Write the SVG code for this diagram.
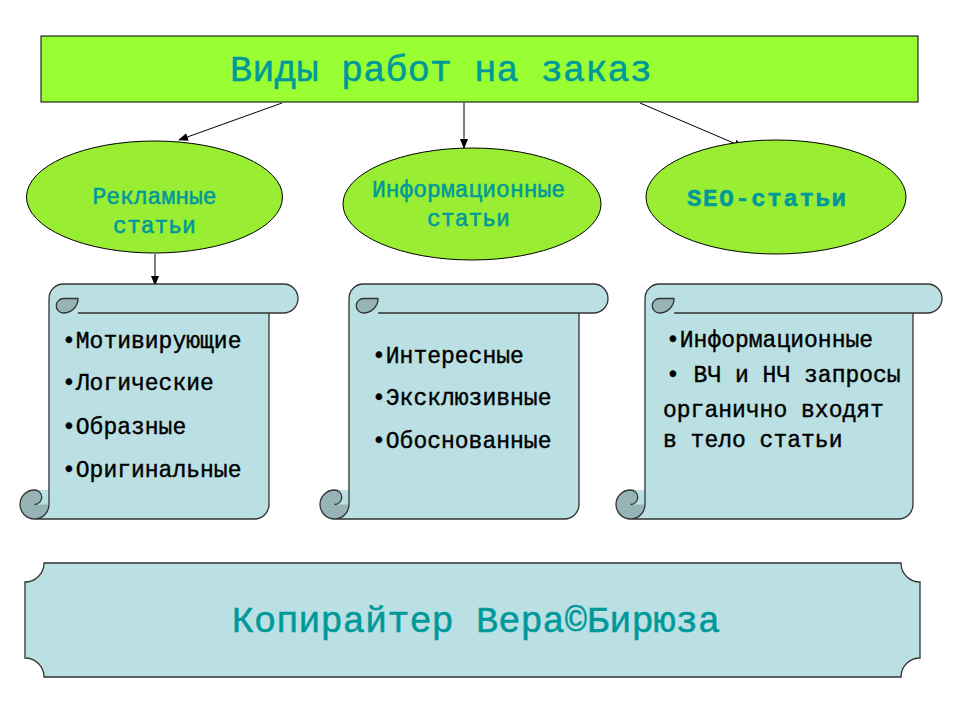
<svg xmlns="http://www.w3.org/2000/svg" width="960" height="720" viewBox="0 0 960 720">
<defs>
<style>
.t{font-family:"Liberation Mono","Courier New",monospace;}
.teal{fill:#009999;stroke:#009999;stroke-width:0.5;}
.blk{fill:#000;stroke:#000;stroke-width:0.4;}
.light{fill:#BBE0E3;}
.dark{fill:#96B3B6;}
.ln{fill:none;stroke:#333;stroke-width:1.3;}
.conn{stroke:#000;stroke-width:1;fill:none;marker-end:url(#ah);}
</style>
<marker id="ah" markerWidth="10" markerHeight="8" refX="9" refY="4" orient="auto" markerUnits="userSpaceOnUse">
<path d="M0,0 L10,4 L0,8 Z" fill="#000"/>
</marker>
</defs>
<rect width="960" height="720" fill="#fff"/>

<g id="title">
<rect x="41" y="36" width="877" height="66" fill="#99FF33" stroke="#000" stroke-width="1"/>
<text class="t teal" x="230" y="81" font-size="37">Виды работ на заказ</text>
</g>

<g id="connectors">
<line class="conn" x1="282" y1="103" x2="179" y2="140"/>
<line class="conn" x1="464" y1="103" x2="464" y2="148"/>
<line class="conn" x1="640" y1="103" x2="743" y2="147"/>
<line class="conn" x1="155" y1="254" x2="155" y2="285"/>
</g>

<g id="ellipse-reklama">
<ellipse cx="154.5" cy="197" rx="128" ry="56" fill="#99EE33" stroke="#000" stroke-width="1"/>
<text class="t teal" x="154.5" y="204" font-size="23" text-anchor="middle">Рекламные</text>
<text class="t teal" x="154.5" y="233" font-size="23" text-anchor="middle">статьи</text>
</g>

<g id="ellipse-info">
<ellipse cx="472" cy="204" rx="129" ry="56" fill="#99EE33" stroke="#000" stroke-width="1"/>
<text class="t teal" x="468.5" y="197" font-size="23" text-anchor="middle">Информационные</text>
<text class="t teal" x="468.5" y="226" font-size="23" text-anchor="middle">статьи</text>
</g>

<g id="ellipse-seo">
<ellipse cx="776" cy="197" rx="130" ry="57" fill="#99EE33" stroke="#000" stroke-width="1"/>
<text class="t teal" x="766.5" y="206" font-size="24" font-weight="bold" text-anchor="middle" textLength="159">SEO-статьи</text>
</g>

<g id="scroll-1" transform="translate(20,284)">
<path class="light" d="M29,14.5 A14.5,14.5 0 0 1 43.5,0 L263.5,0 A14.5,14.5 0 0 1 263.5,29 L249,29 L249,220.5 A14.5,14.5 0 0 1 234.5,235 L14.5,235 A14.5,14.5 0 0 0 29,220.5 Z"/>
<circle class="dark" cx="14.5" cy="220.5" r="14.5"/>
<path class="light" d="M14.5,220.5 A7.25,7.25 0 0 0 14.5,206 L29,206 L29,220.5 Z"/>
<path class="dark" d="M58,14.5 A14.5,14.5 0 0 1 43.5,29 A7.25,7.25 0 0 1 43.5,14.5 Z"/>
<path class="ln" d="M58,14.5 A14.5,14.5 0 0 1 43.5,29 A7.25,7.25 0 0 1 43.5,14.5 Z"/>
<path class="ln" d="M29,220.5 L29,14.5 A14.5,14.5 0 0 1 43.5,0 L263.5,0 A14.5,14.5 0 0 1 263.5,29 L58,29 M249,29 L249,220.5 A14.5,14.5 0 0 1 234.5,235 L14.5,235 M29,220.5 A14.5,14.5 0 1 1 14.5,206 A7.25,7.25 0 0 1 14.5,220.5"/>
<text class="t blk" font-size="23"><tspan x="42" y="64">•Мотивирующие</tspan><tspan x="42" y="106">•Логические</tspan><tspan x="42" y="150">•Образные</tspan><tspan x="42" y="193">•Оригинальные</tspan></text>
</g>

<g id="scroll-2" transform="translate(320,284)">
<path class="light" d="M29,14.5 A14.5,14.5 0 0 1 43.5,0 L273.5,0 A14.5,14.5 0 0 1 273.5,29 L259,29 L259,220.5 A14.5,14.5 0 0 1 244.5,235 L14.5,235 A14.5,14.5 0 0 0 29,220.5 Z"/>
<circle class="dark" cx="14.5" cy="220.5" r="14.5"/>
<path class="light" d="M14.5,220.5 A7.25,7.25 0 0 0 14.5,206 L29,206 L29,220.5 Z"/>
<path class="dark" d="M58,14.5 A14.5,14.5 0 0 1 43.5,29 A7.25,7.25 0 0 1 43.5,14.5 Z"/>
<path class="ln" d="M58,14.5 A14.5,14.5 0 0 1 43.5,29 A7.25,7.25 0 0 1 43.5,14.5 Z"/>
<path class="ln" d="M29,220.5 L29,14.5 A14.5,14.5 0 0 1 43.5,0 L273.5,0 A14.5,14.5 0 0 1 273.5,29 L58,29 M259,29 L259,220.5 A14.5,14.5 0 0 1 244.5,235 L14.5,235 M29,220.5 A14.5,14.5 0 1 1 14.5,206 A7.25,7.25 0 0 1 14.5,220.5"/>
<text class="t blk" font-size="23"><tspan x="52" y="79">•Интересные</tspan><tspan x="52" y="121">•Эксклюзивные</tspan><tspan x="52" y="164">•Обоснованные</tspan></text>
</g>

<g id="scroll-3" transform="translate(616,284)">
<path class="light" d="M29,14.5 A14.5,14.5 0 0 1 43.5,0 L311.5,0 A14.5,14.5 0 0 1 311.5,29 L297,29 L297,220.5 A14.5,14.5 0 0 1 282.5,235 L14.5,235 A14.5,14.5 0 0 0 29,220.5 Z"/>
<circle class="dark" cx="14.5" cy="220.5" r="14.5"/>
<path class="light" d="M14.5,220.5 A7.25,7.25 0 0 0 14.5,206 L29,206 L29,220.5 Z"/>
<path class="dark" d="M58,14.5 A14.5,14.5 0 0 1 43.5,29 A7.25,7.25 0 0 1 43.5,14.5 Z"/>
<path class="ln" d="M58,14.5 A14.5,14.5 0 0 1 43.5,29 A7.25,7.25 0 0 1 43.5,14.5 Z"/>
<path class="ln" d="M29,220.5 L29,14.5 A14.5,14.5 0 0 1 43.5,0 L311.5,0 A14.5,14.5 0 0 1 311.5,29 L58,29 M297,29 L297,220.5 A14.5,14.5 0 0 1 282.5,235 L14.5,235 M29,220.5 A14.5,14.5 0 1 1 14.5,206 A7.25,7.25 0 0 1 14.5,220.5"/>
<text class="t blk" font-size="23"><tspan x="50" y="63">•Информационные</tspan><tspan x="50" y="98">• ВЧ и НЧ запросы</tspan><tspan x="47" y="133">органично входят</tspan><tspan x="47" y="163">в тело статьи</tspan></text>
</g>

<g id="plaque">
<path class="light" stroke="#333" stroke-width="1.3" d="M44,563 L901,563 A19,19 0 0 0 920,582 L920,658 A19,19 0 0 0 901,677 L44,677 A19,19 0 0 0 25,658 L25,582 A19,19 0 0 0 44,563 Z"/>
<text class="t teal" x="476" y="632" font-size="37" text-anchor="middle">Копирайтер Вера©Бирюза</text>
</g>
</svg>
